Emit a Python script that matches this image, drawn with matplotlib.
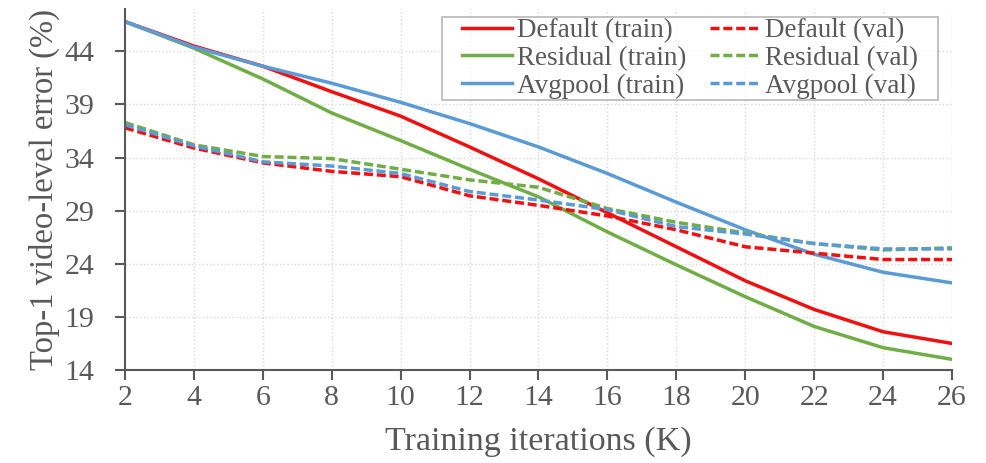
import matplotlib.pyplot as plt

iters = [2, 4, 6, 8, 10, 12, 14, 16, 18, 20, 22, 24, 26]

default_train = [46.8, 44.5, 42.6, 40.2, 37.9, 35.0, 32.0, 28.8, 25.6, 22.4, 19.7, 17.6, 16.5]
residual_train = [46.8, 44.3, 41.4, 38.2, 35.6, 32.9, 30.3, 27.0, 23.9, 20.9, 18.1, 16.1, 15.0]
avgpool_train = [46.8, 44.4, 42.6, 41.0, 39.2, 37.2, 35.0, 32.5, 29.8, 27.2, 24.9, 23.2, 22.2]

default_val = [36.8, 34.9, 33.5, 32.7, 32.2, 30.4, 29.5, 28.5, 27.2, 25.6, 25.0, 24.4, 24.4]
residual_val = [37.3, 35.2, 34.1, 33.9, 32.9, 31.9, 31.2, 29.2, 27.9, 26.9, 25.9, 25.3, 25.5]
avgpool_val = [37.1, 35.1, 33.6, 33.2, 32.5, 30.8, 30.0, 29.1, 27.5, 26.8, 25.9, 25.4, 25.4]

red = '#F01010'
green = '#70AD47'
blue = '#5B9BD5'
gray = '#595959'

plt.rcParams['font.family'] = ['Liberation Serif', 'DejaVu Serif']

fig = plt.figure(figsize=(9.87, 4.63), dpi=100)
ax = fig.add_axes([0.1266, 0.2009, 0.8379, 0.78])

lw = 2.5
dash = (0, (2.6, 1.1))
ax.plot(iters, default_train, color=red, lw=lw, label='Default (train)')
ax.plot(iters, residual_train, color=green, lw=lw, label='Residual (train)')
ax.plot(iters, avgpool_train, color=blue, lw=lw, label='Avgpool (train)')
ax.plot(iters, default_val, color=red, lw=lw, ls=dash, label='Default (val)')
ax.plot(iters, residual_val, color=green, lw=lw, ls=dash, label='Residual (val)')
ax.plot(iters, avgpool_val, color=blue, lw=lw, ls=dash, label='Avgpool (val)')

ax.set_xlim(2, 26)
ax.set_ylim(14, 48)
ax.set_xticks(iters)
ax.set_yticks([14, 19, 24, 29, 34, 39, 44])
ax.grid(True, color='#D9D9D9', ls=':', lw=1)
ax.set_axisbelow(True)

for s in ['top', 'right']:
    ax.spines[s].set_visible(False)
for s in ['left', 'bottom']:
    ax.spines[s].set_color(gray)
    ax.spines[s].set_linewidth(1.5)
ax.tick_params(colors=gray, labelsize=21.5, length=7, width=1.5, direction='out')
ax.tick_params(axis='y', pad=15)
ax.tick_params(axis='x', pad=4)

ax.set_xlabel('Training iterations (K)', fontsize=24.5, color=gray, labelpad=11)
ax.set_ylabel('Top-1 video-level error (%)', fontsize=23.5, color=gray, labelpad=3)

leg = ax.legend(ncol=2, loc='upper right', bbox_to_anchor=(0.960, 0.978), fontsize=19.5,
                frameon=True, fancybox=False, handlelength=1.85, handletextpad=0.18,
                columnspacing=0.85, labelspacing=0.1, borderpad=0.05, borderaxespad=0)
frame = leg.get_frame()
frame.set_edgecolor('#A6A6A6')
frame.set_linewidth(1.2)
# wider padding left/right than top/bottom
frame.set_boxstyle('square', pad=0.7)
frame.set_mutation_aspect(0.001)
for t in leg.get_texts():
    t.set_color(gray)

fig.savefig('out.png', dpi=100)
